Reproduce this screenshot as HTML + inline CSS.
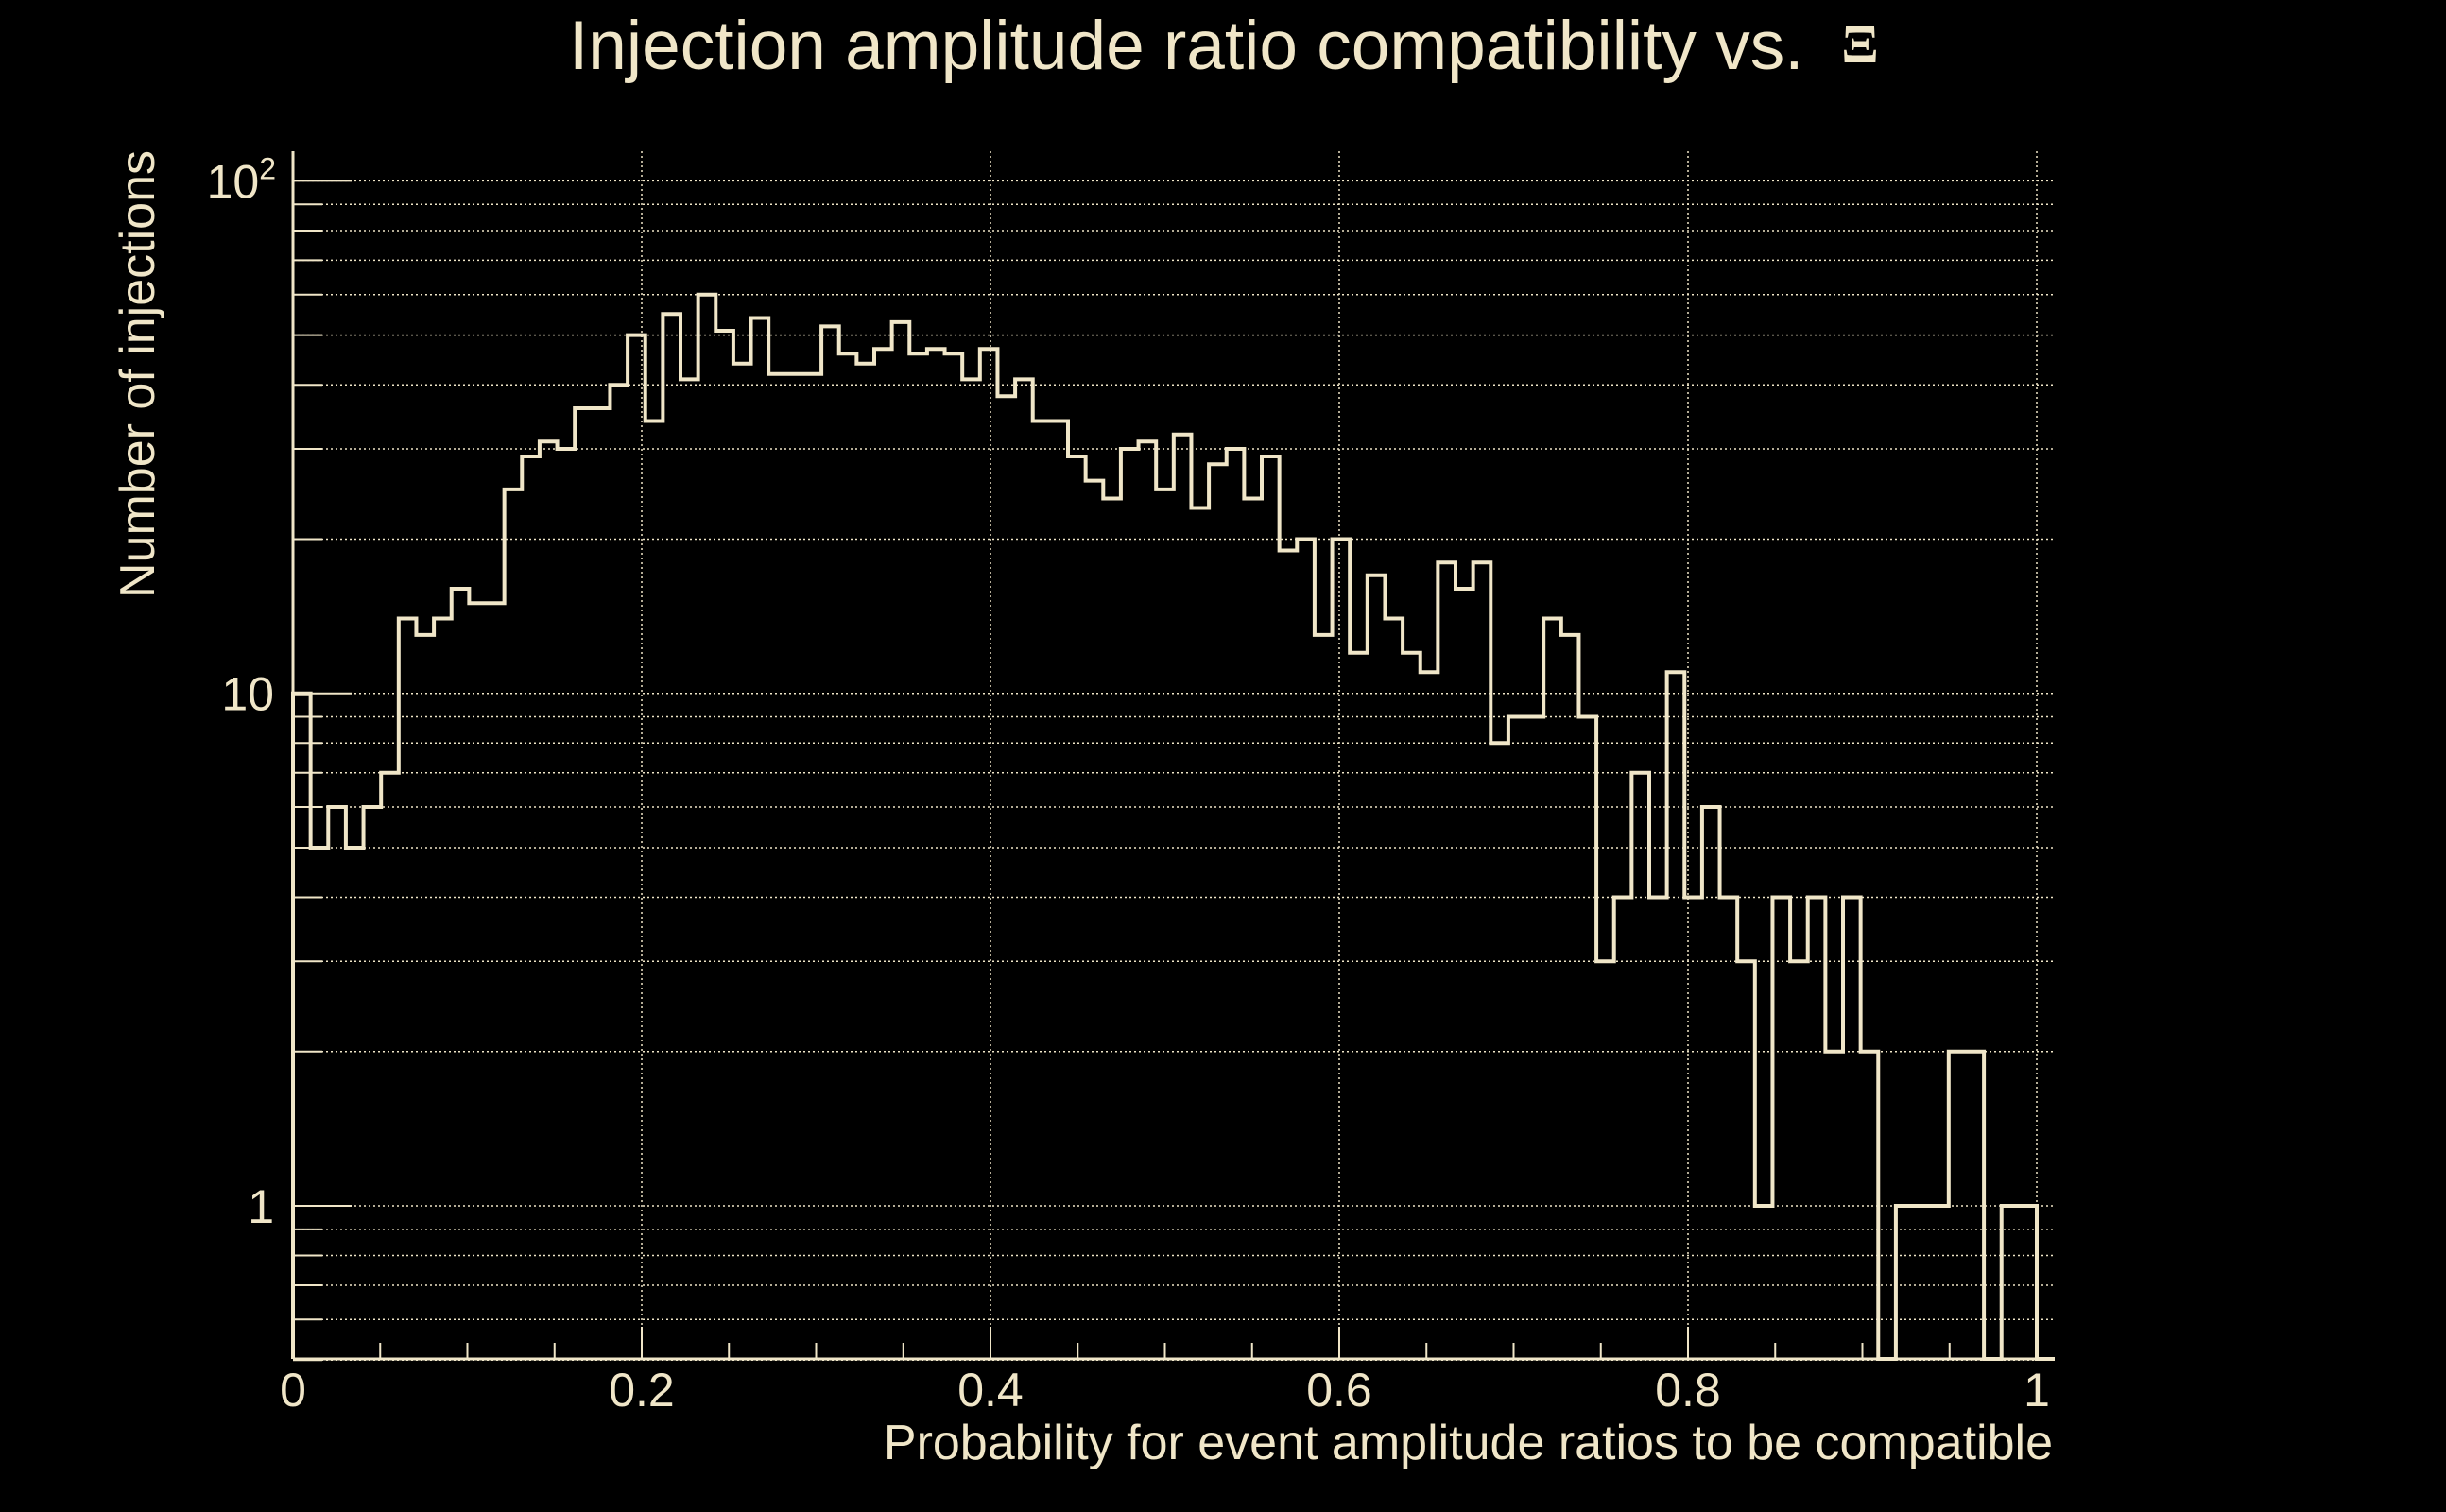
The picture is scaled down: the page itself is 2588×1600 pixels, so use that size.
<!DOCTYPE html>
<html><head><meta charset="utf-8"><style>
html,body{margin:0;padding:0;background:#000;}
svg{display:block;}
text{font-family:"Liberation Sans",sans-serif;fill:#f0e6c8;}
</style></head><body>
<svg id="chart" width="2588" height="1600" viewBox="0 0 2588 1600" xmlns="http://www.w3.org/2000/svg">
<rect width="2588" height="1600" fill="#000"/>
<text x="602" y="73" font-size="73">Injection amplitude ratio compatibility vs.</text>
<text x="1968" y="66" font-size="58" font-weight="bold" text-anchor="middle" style="font-family:'Liberation Serif',serif">Ξ</text>
<g id="grid"></g>
<g id="axes"></g>
<path id="hist" fill="none" stroke="#f0e6c8" stroke-width="4" stroke-linejoin="miter"/>
<text transform="translate(163,396) rotate(-90)" font-size="52" text-anchor="middle">Number of injections</text>
<text x="2172" y="1544" font-size="52" text-anchor="end">Probability for event amplitude ratios to be compatible</text>
</svg>
<script>
const binCounts = [10,5,6,5,6,7,14,13,14,16,
15,15,25,29,31,30,36,36,40,50,
34,55,41,60,51,44,54,42,42,42,
52,46,44,47,53,46,47,46,41,47,
38,41,34,34,29,26,24,30,31,25,
32,23,28,30,24,29,19,20,13,20,
12,17,14,12,11,18,16,18,8,9,
9,14,13,9,3,4,7,4,11,4,
6,4,3,1,4,3,4,2,4,2,
0,1,1,1,2,2,0,1,1];
const xTickValues = [0,0.2,0.4,0.6,0.8,1];
const xTickLabels = ["0","0.2","0.4","0.6","0.8","1"];
const yMajorValues = [1,10,100];
const xMin = 0, xMax = 1, yMin = 0.5, yMax = 114;

const NS = "http://www.w3.org/2000/svg";
const L = 310, R = 2155, T = 160, B = 1438, GR = 2174;
const C = "#f0e6c8";
function sx(v){ return L + (v - xMin) / (xMax - xMin) * (R - L); }
function sy(v){ const lv = Math.log10(Math.max(v, yMin)); return 1276 - lv * 542.3; }
function mk(tag, attrs, parent){ const e = document.createElementNS(NS, tag); for (const k in attrs) e.setAttribute(k, attrs[k]); parent.appendChild(e); return e; }
const grid = document.getElementById('grid');
const axes = document.getElementById('axes');

for (let d = -1; d <= 2; d++) {
  for (let m = 1; m <= 9; m++) {
    const v = m * Math.pow(10, d);
    if (v < yMin || v > yMax) continue;
    const y = sy(v);
    const g = mk('line', {x1: L, x2: GR, y1: y, y2: y, stroke: C, 'stroke-width': 1.5, 'stroke-dasharray': '2 3'}, grid);
    
    
    const t = mk('line', {x1: L, x2: L + (m === 1 ? 62 : 31), y1: y, y2: y, stroke: C, 'stroke-width': 2}, axes);
    
    
  }
}
xTickValues.forEach(v => {
  if (v === 0) return;
  const x = sx(v);
  const g = mk('line', {x1: x, x2: x, y1: T, y2: B, stroke: C, 'stroke-width': 1.5, 'stroke-dasharray': '2 3'}, grid);
  
  
});
for (let i = 0; i <= 20; i++) {
  const v = i * 0.05, x = sx(v);
  const major = i % 4 === 0;
  const t = mk('line', {x1: x, x2: x, y1: B, y2: B - (major ? 34 : 17), stroke: C, 'stroke-width': 2}, axes);
  
  
}
xTickValues.forEach((v, i) => {
  const t = mk('text', {x: sx(v), y: 1488, 'font-size': 50, 'text-anchor': 'middle'}, axes);
  t.textContent = xTickLabels[i];
  
  
});
yMajorValues.forEach(v => {
  const y = sy(v);
  const t = mk('text', {x: 290, y: y + 18, 'font-size': 50, 'text-anchor': 'end'}, axes);
  if (v === 100) {
    t.textContent = '10';
    const s = mk('tspan', {'font-size': 32, dy: -20}, t);
    s.textContent = '2';
    t.setAttribute('x', 292);
  } else t.textContent = String(v);
  
  
});
let a = mk('line', {x1: L, x2: L, y1: T, y2: B, stroke: C, 'stroke-width': 3}, axes);


a = mk('line', {x1: L, x2: GR, y1: B, y2: B, stroke: C, 'stroke-width': 3}, axes);



const n = binCounts.length;
let d = 'M' + sx(0) + ' ' + B;
binCounts.forEach((c, i) => {
  const x0 = sx(i / n), x1 = sx((i + 1) / n);
  const y = c > 0 ? sy(c) : B;
  d += ' L' + x0 + ' ' + y + ' L' + x1 + ' ' + y;
});
d += ' L' + sx(1) + ' ' + B + ' L' + GR + ' ' + B;
document.getElementById('hist').setAttribute('d', d);
</script>
</body></html>
